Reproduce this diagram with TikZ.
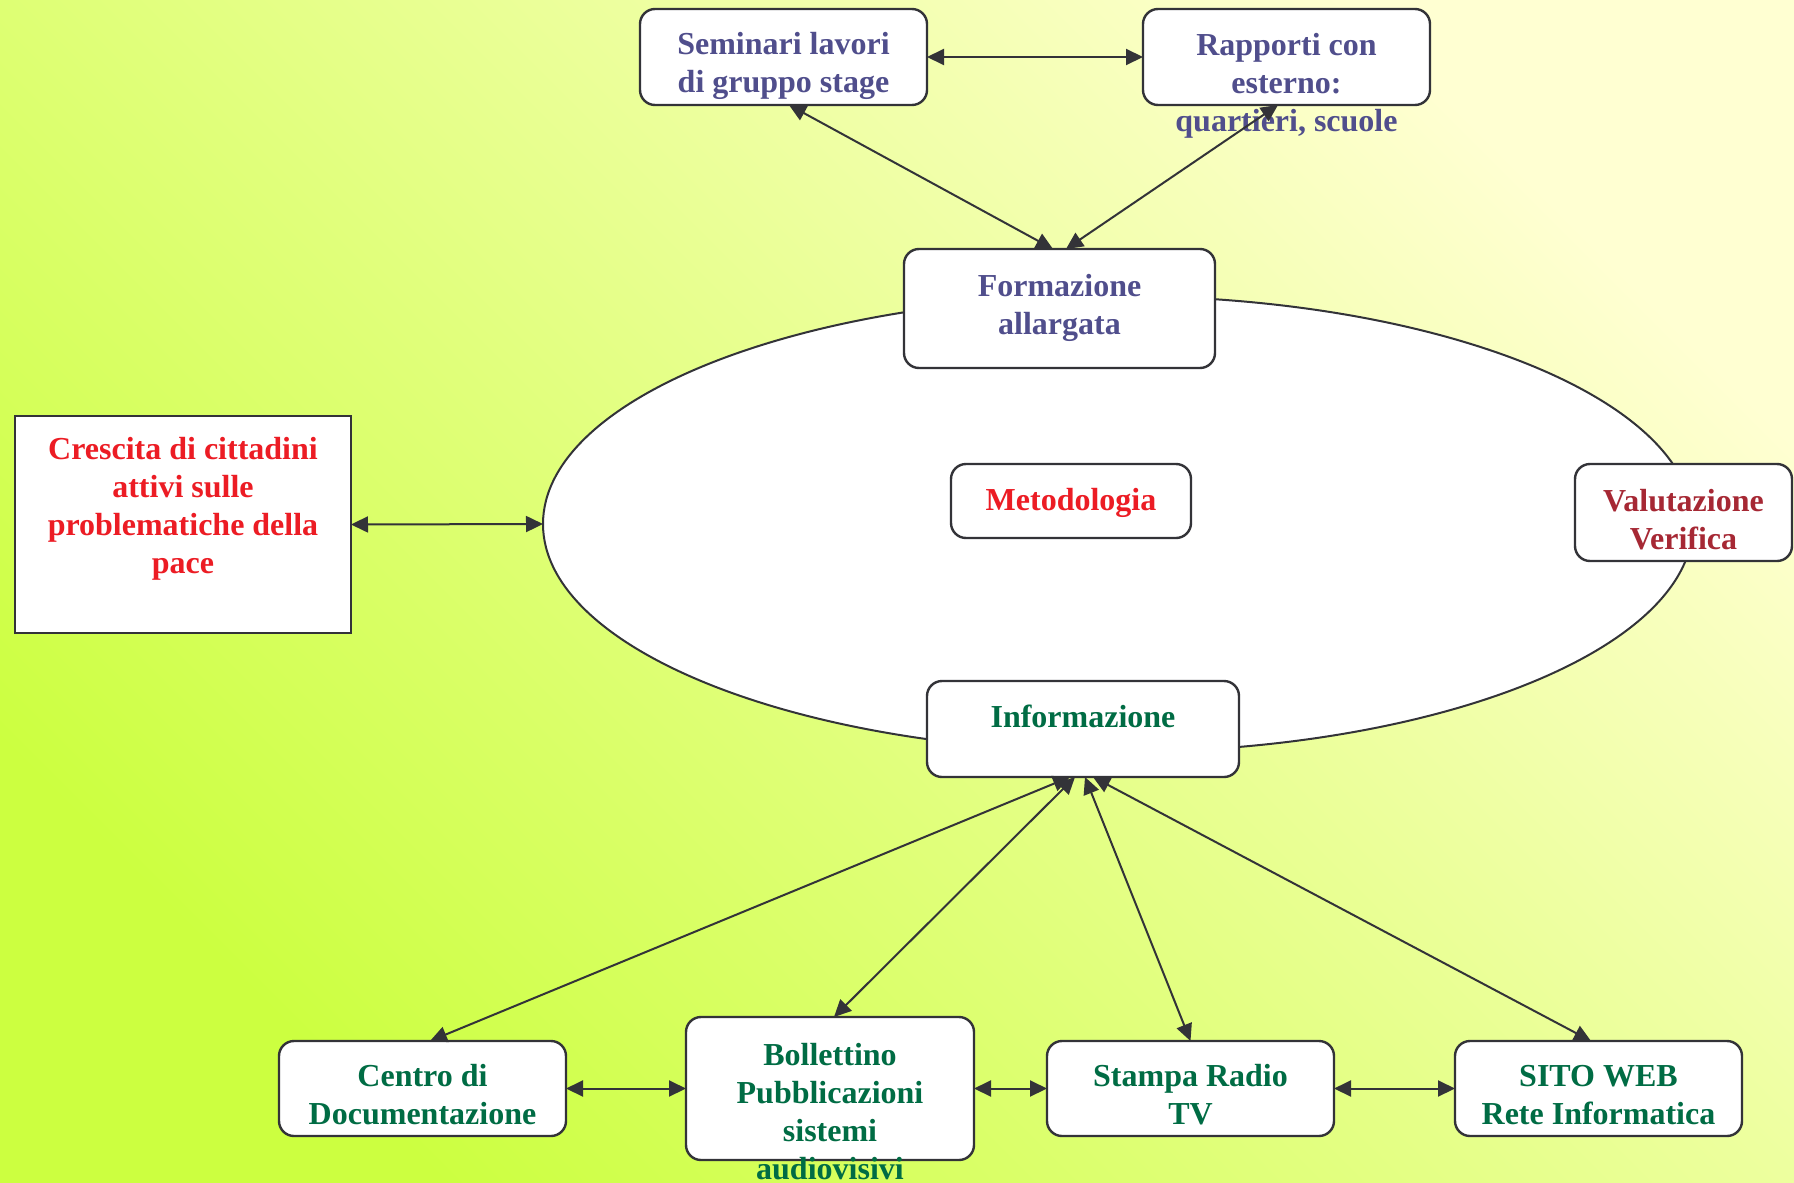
\documentclass[tikz,border=0pt]{standalone}
\usepackage{fontspec}
\setmainfont{Liberation Serif}
\usetikzlibrary{arrows.meta,shapes.geometric}
\definecolor{bgA}{RGB}{204,255,64}
\definecolor{bgB}{RGB}{255,255,210}
\definecolor{linec}{RGB}{51,51,56}
\definecolor{txtblue}{RGB}{80,78,140}
\definecolor{txtred}{RGB}{236,28,36}
\definecolor{txtdred}{RGB}{166,40,52}
\definecolor{txtgreen}{RGB}{0,108,68}
\tikzset{
  box/.style={draw=linec, line width=1.2pt, fill=white, rounded corners=7.5pt, inner sep=0pt, outer sep=0pt},
  sqbox/.style={draw=linec, line width=1.2pt, fill=white, inner sep=0pt, outer sep=0pt},
  txt/.style={font=\fontsize{16}{19}\selectfont\bfseries, align=center, inner sep=0pt},
  conn/.style={draw=linec, line width=1pt, {Triangle[length=8.5pt,width=8pt]}-{Triangle[length=8.5pt,width=8pt]}}
}
\begin{document}
\begin{tikzpicture}[x=0.5pt,y=-0.5pt]
% background
\shade[shading=axis, left color=bgA, right color=bgB, shading angle=135] (0pt,0pt) rectangle (897pt,-591.5pt);
\useasboundingbox (0pt,0pt) rectangle (897pt,-591.5pt);
% ellipse
\node[ellipse, draw=linec, line width=1pt, fill=white, minimum width=575pt, minimum height=228pt, inner sep=0pt, outer sep=0pt] (ell) at (1118,524) {};
% boxes
\node[box, minimum width=143.5pt, minimum height=48pt] (sem) at (783.5,57) {};
\node[box, minimum width=143.5pt, minimum height=48pt] (rap) at (1286.5,57) {};
\node[box, minimum width=155.5pt, minimum height=59.5pt] (form) at (1059.5,308.5) {};
\node[box, minimum width=120pt, minimum height=37pt] (met) at (1071,501) {};
\node[box, minimum width=108.5pt, minimum height=48.5pt] (val) at (1683.5,512.5) {};
\node[sqbox, minimum width=168pt, minimum height=108.5pt] (cre) at (183,524.5) {};
\node[box, minimum width=156pt, minimum height=48pt] (info) at (1083,729) {};
\node[box, minimum width=143.5pt, minimum height=47.5pt] (cen) at (422.5,1088.5) {};
\node[box, minimum width=144pt, minimum height=71.5pt] (bol) at (830,1088.5) {};
\node[box, minimum width=143.5pt, minimum height=47.5pt] (sta) at (1190.5,1088.5) {};
\node[box, minimum width=143.5pt, minimum height=47.5pt] (sito) at (1598.5,1088.5) {};
% texts
\node[txt, text=txtblue] (semT) at (783.5,66) {\strut Seminari lavori\\\strut di gruppo stage};
\node[txt, text=txtblue] (rapT) at (1286.5,86) {\strut Rapporti con\\\strut esterno:\\\strut quartieri, scuole};
\node[txt, text=txtblue] (formT) at (1059.5,308) {\strut Formazione\\\strut allargata};
\node[txt, text=txtred] (metT) at (1071,503) {\strut Metodologia};
\node[txt, text=txtdred] (valT) at (1683.5,523) {\strut Valutazione\\\strut Verifica};
\node[txt, text=txtred] (creT) at (183,509) {\strut Crescita di cittadini\\\strut attivi sulle\\\strut problematiche della\\\strut pace};
\node[txt, text=txtgreen] (infoT) at (1083,720) {\strut Informazione};
\node[txt, text=txtgreen] (cenT) at (422.5,1098) {\strut Centro di\\\strut Documentazione};
\node[txt, text=txtgreen] (bolT) at (830,1115) {\strut Bollettino\\\strut Pubblicazioni\\\strut sistemi\\\strut audiovisivi};
\node[txt, text=txtgreen] (staT) at (1190.5,1098) {\strut Stampa Radio\\\strut TV};
\node[txt, text=txtgreen] (sitoT) at (1598.5,1098) {\strut SITO WEB\\\strut Rete Informatica};
% connectors
\draw[conn] (sem.east) -- (rap.west);
\draw[conn] ([xshift=2.75pt]sem.south) -- ([xshift=-3.25pt]form.north);
\draw[conn] ([xshift=-4.25pt]rap.south) -- ([xshift=3.25pt]form.north);
\draw[conn] (cre.east) -- (ell.west);
\draw[conn] ([xshift=-6.5pt]info.south) -- ([xshift=3.75pt]cen.north);
\draw[conn] ([xshift=-4pt]info.south) -- ([xshift=2pt]bol.north);
\draw[conn] ([xshift=1pt]info.south) -- (sta.north);
\draw[conn] ([xshift=5pt]info.south) -- ([xshift=-3.75pt]sito.north);
\draw[conn] (cen.east) -- (bol.west);
\draw[conn] (bol.east) -- (sta.west);
\draw[conn] (sta.east) -- (sito.west);
\end{tikzpicture}
\end{document}
